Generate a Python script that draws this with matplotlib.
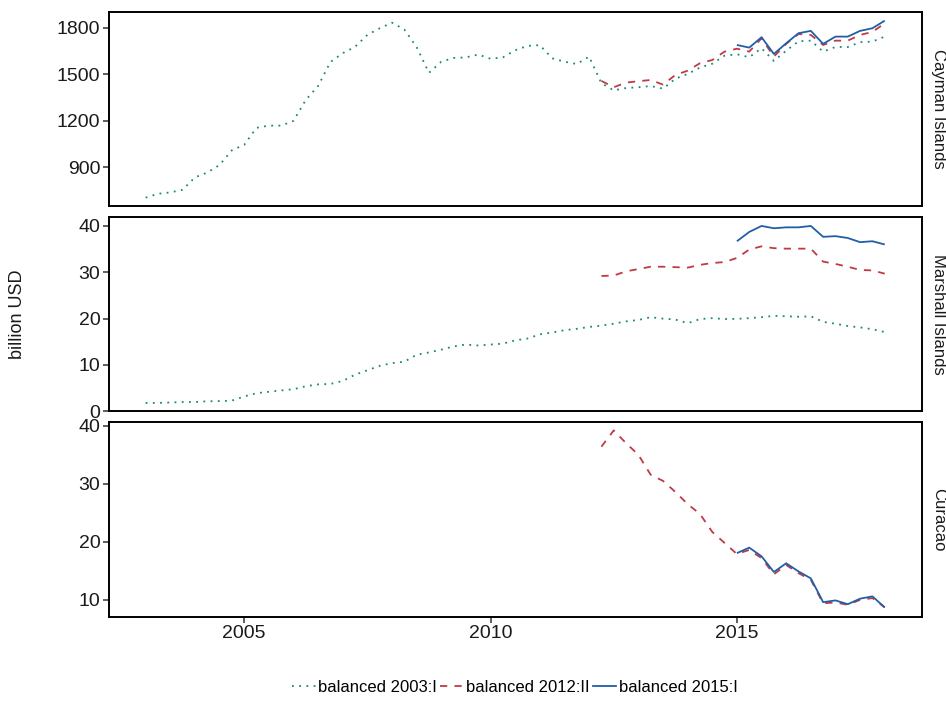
import numpy as np
import matplotlib
matplotlib.use("Agg")
import matplotlib.pyplot as plt
from matplotlib.lines import Line2D

plt.rcParams["font.family"] = ["Liberation Sans", "DejaVu Sans"]

# quarterly dates, 2003:I .. 2018:I
quarters = 2003 + 0.25 * np.arange(61)

panels = ["Cayman Islands", "Marshall Islands", "Curacao"]
labels = ["balanced 2003:I", "balanced 2012:II", "balanced 2015:I"]
colors = ["#17887A", "#BF3A45", "#225EA8"]

# Cayman Islands
cay_2003 = [704, 729, 738, 755, 835, 866, 915, 1010, 1045, 1155, 1169, 1169, 1200, 1335, 1425, 1580,
            1637, 1678, 1755, 1798, 1834, 1790, 1676, 1510, 1582, 1606, 1610, 1628, 1601, 1610, 1656, 1684,
            1689, 1604, 1582, 1567, 1615, 1443, 1397, 1412, 1417, 1425, 1408, 1472, 1503, 1544, 1569, 1621,
            1630, 1611, 1669, 1587, 1653, 1714, 1718, 1647, 1677, 1677, 1708, 1712, 1744]
cay_2012 = [1458, 1417, 1447, 1456, 1464, 1434, 1496, 1524, 1572, 1593, 1647, 1666,
            1647, 1733, 1615, 1697, 1761, 1755, 1690, 1718, 1718, 1755, 1774, 1830]
cay_2015 = [1690, 1673, 1740, 1632, 1701, 1766, 1781, 1697, 1744, 1744, 1781, 1798, 1847]

# Marshall Islands
mar_2003 = [1.8, 1.8, 1.9, 2.0, 2.0, 2.15, 2.2, 2.3, 3.2, 3.9, 4.2, 4.5, 4.75, 5.4, 5.8, 5.9,
            6.55, 7.9, 8.85, 9.8, 10.4, 10.7, 12.2, 12.7, 13.3, 14.0, 14.4, 14.2, 14.4, 14.6, 15.3, 15.7,
            16.6, 17.0, 17.5, 17.8, 18.2, 18.5, 18.9, 19.4, 19.7, 20.3, 20.0, 19.8, 19.0, 19.9, 20.1, 19.9,
            19.95, 20.1, 20.3, 20.6, 20.5, 20.4, 20.5, 19.3, 18.9, 18.4, 18.1, 17.7, 17.1]
mar_2012 = [29.2, 29.3, 30.2, 30.7, 31.2, 31.2, 31.1, 31.0, 31.6, 32.0, 32.2, 33.1,
            34.9, 35.6, 35.2, 35.1, 35.1, 35.1, 32.3, 31.8, 31.2, 30.5, 30.4, 29.7]
mar_2015 = [36.7, 38.7, 40.0, 39.5, 39.7, 39.7, 40.0, 37.65, 37.8, 37.4, 36.5, 36.7, 36.0]

# Curacao
cur_2012 = [36.4, 39.2, 37.0, 35.0, 31.55, 30.5, 28.6, 26.5, 24.8, 21.7, 19.8, 17.9,
            18.6, 17.2, 14.4, 16.0, 14.6, 13.45, 9.4, 9.55, 9.15, 10.0, 10.3, 8.7]
cur_2015 = [18.05, 19.0, 17.5, 14.8, 16.3, 14.9, 13.7, 9.6, 9.9, 9.25, 10.2, 10.6, 8.7]

data = [
    [cay_2003, cay_2012, cay_2015],
    [mar_2003, mar_2012, mar_2015],
    [None, cur_2012, cur_2015],
]
yticks = [[900, 1200, 1500, 1800], [0, 10, 20, 30, 40], [10, 20, 30, 40]]
ylims = [(650, 1903), (0, 42), (7.1, 40.6)]
styles = [(0, (1, 3)), (0, (4, 4)), "-"]

fig = plt.figure(figsize=(9.46, 7.01), dpi=100)
left, right = 0.1149, 0.9743
boxes = [(0.7061, 0.9829), (0.4133, 0.6909), (0.1203, 0.3976)]

axes = []
for i, (b, t) in enumerate(boxes):
    ax = fig.add_axes([left, b, right - left, t - b])
    axes.append(ax)
    for j, series in enumerate(data[i]):
        if series is None:
            continue
        x = quarters[len(quarters) - len(series):]
        ax.plot(x, series, color=colors[j], linestyle=styles[j], lw=1.3,
                solid_capstyle="butt", dash_capstyle="butt")
    ax.set_xlim(2002.25, 2018.75)
    ax.set_ylim(*ylims[i])
    ax.set_yticks(yticks[i])
    ax.set_xticks([2005, 2010, 2015])
    for s in ax.spines.values():
        s.set_linewidth(1.4)
        s.set_color("black")
    ax.tick_params(axis="both", labelsize=14, length=4, width=1.1,
                   color="#333333", labelcolor="#1a1a1a", pad=2)
    if i < 2:
        ax.tick_params(axis="x", labelbottom=False, length=0)
    ax.text(1.012, 0.5, panels[i], transform=ax.transAxes, rotation=-90,
            va="center", ha="left", fontsize=12, color="#1a1a1a")

fig.text(0.019, 0.552, "billion USD", rotation=90, va="center", ha="center",
         fontsize=13, color="#1a1a1a")

handles = [Line2D([0], [0], color=colors[j], linestyle=styles[j], lw=1.3) for j in range(3)]
fig.legend(handles, labels, loc="center", bbox_to_anchor=(0.5445, 0.019), ncol=3,
           frameon=False, fontsize=12, handlelength=1.4, handletextpad=0.15,
           columnspacing=0.2)

fig.savefig("out.png", dpi=100)
